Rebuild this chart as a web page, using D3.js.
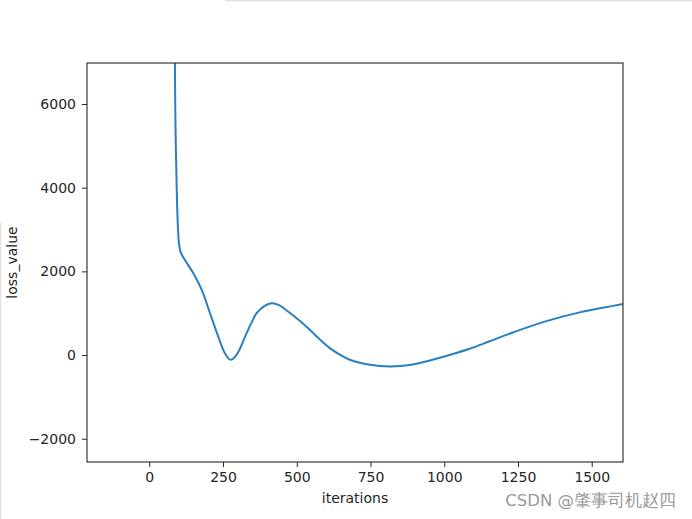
<!DOCTYPE html>
<html>
    <head>
        <meta charset="utf-8">
        <title>loss curve</title>
        <script src="https://d3js.org/d3.v7.min.js"></script>
        <style>
          body { margin: 0; background: #fff; }
          text { font-family: "DejaVu Sans", sans-serif; }
        </style>
    </head>
    <body>
      <script type="text/javascript">
      // values
      var iterations = [80, 87, 89, 93, 95, 98, 101, 106, 112, 121, 149, 178, 206, 234, 256, 276, 296, 330, 345, 364, 390, 415, 440, 465, 510, 545, 578, 612, 646, 680, 748, 815, 883, 951, 1018, 1086, 1154, 1233, 1346, 1459, 1572, 1620];
      var lossValues = [12000, 6980, 5460, 4030, 3470, 2950, 2650, 2470, 2380, 2270, 1960, 1560, 1000, 440, 50, -113, 6, 524, 750, 1002, 1170, 1240, 1195, 1070, 820, 600, 375, 166, 10, -113, -233, -273, -240, -130, 0, 150, 330, 540, 810, 1020, 1175, 1235];
      var xTicks = [0, 250, 500, 750, 1000, 1250, 1500];
      var yTicks = [-2000, 0, 2000, 4000, 6000];

      var width = 692, height = 519;
      var margin = {top: 63, right: 69, bottom: 57, left: 87};

      var mySVG = d3.select("body").append("svg")
                .attr("width", width)
                .attr("height", height);

      // screenshot edges
      mySVG.append("line").attr("x1", 225).attr("x2", width).attr("y1", 0.5).attr("y2", 0.5)
            .attr("stroke", "#e0e0e0").attr("stroke-width", 1.5);
      mySVG.append("line").attr("x1", 0.5).attr("x2", 0.5).attr("y1", 223).attr("y2", height)
            .attr("stroke", "#e0e0e0").attr("stroke-width", 1.5);

      var xScale = d3.scaleLinear().domain([-211, 1606]).range([margin.left, width - margin.right]);
      var yScale = d3.scaleLinear().domain([-2556, 6980]).range([height - margin.bottom, margin.top]);

      mySVG.append("clipPath").attr("id", "plotClip").append("rect")
            .attr("x", margin.left).attr("y", margin.top)
            .attr("width", width - margin.left - margin.right)
            .attr("height", height - margin.top - margin.bottom);

      var line = d3.line()
            .x(function(d, i){return xScale(iterations[i]);})
            .y(function(d){return yScale(d);})
            .curve(d3.curveCatmullRom.alpha(0.5));

      mySVG.append("path").datum(lossValues)
            .attr("clip-path", "url(#plotClip)")
            .attr("d", line)
            .attr("fill", "none")
            .attr("stroke", "#2a7fbf")
            .attr("stroke-width", 2);

      // axes
      var xAxisGroup = mySVG.append("g")
            .attr("transform", "translate(0," + (height - margin.bottom) + ")")
            .call(d3.axisBottom(xScale).tickValues(xTicks).tickSize(5).tickPadding(5).tickSizeOuter(0)
                  .tickFormat(d3.format("d")));
      var yAxisGroup = mySVG.append("g")
            .attr("transform", "translate(" + margin.left + ",0)")
            .call(d3.axisLeft(yScale).tickValues(yTicks).tickSize(5).tickPadding(6).tickSizeOuter(0)
                  .tickFormat(function(d){return d < 0 ? "\u2212" + Math.abs(d) : d;}));
      [xAxisGroup, yAxisGroup].forEach(function(g){
        g.select(".domain").remove();
        g.selectAll("text").attr("font-size", 14).attr("font-family", "DejaVu Sans").attr("fill", "#262626");
        g.selectAll("line").attr("stroke", "#262626");
      });

      // frame
      mySVG.append("rect")
            .attr("x", margin.left).attr("y", margin.top)
            .attr("width", width - margin.left - margin.right)
            .attr("height", height - margin.top - margin.bottom)
            .attr("fill", "none").attr("stroke", "#262626").attr("stroke-width", 1.1);

      // labels
      mySVG.append("text").text("iterations")
            .attr("x", (margin.left + width - margin.right) / 2).attr("y", 503)
            .attr("text-anchor", "middle").attr("font-size", 14).attr("fill", "#262626");
      mySVG.append("text").text("loss_value")
            .attr("transform", "translate(17," + ((margin.top + height - margin.bottom) / 2) + ") rotate(-90)")
            .attr("text-anchor", "middle").attr("font-size", 14).attr("fill", "#262626");

      // watermark
      mySVG.append("text").text("CSDN @肇事司机赵四")
            .attr("x", 676).attr("y", 506)
            .attr("text-anchor", "end").attr("font-size", 16.5)
            .attr("font-family", "Noto Sans CJK SC")
            .attr("fill", "#9a9a9a");
      </script>
    </body>
</html>
